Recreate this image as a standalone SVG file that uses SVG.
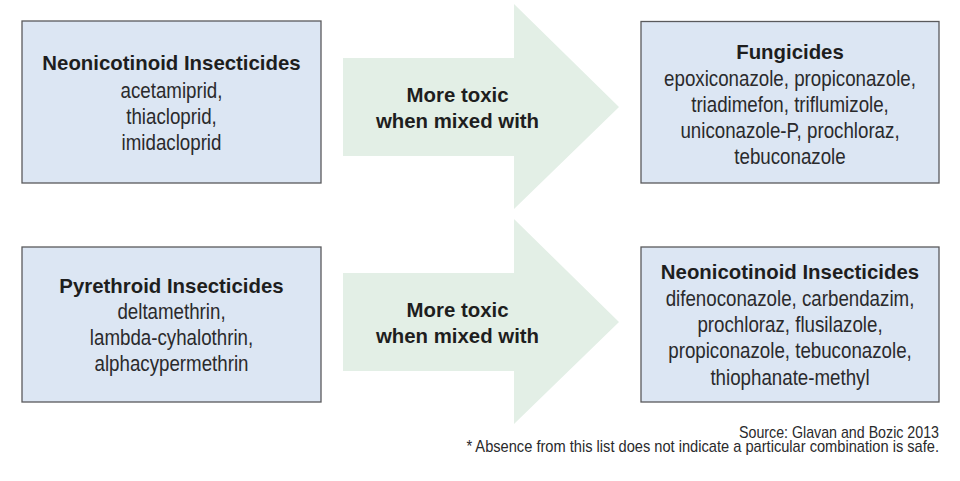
<svg xmlns="http://www.w3.org/2000/svg" width="960" height="481" viewBox="0 0 960 481">
<style>
.box{fill:#dce6f3;stroke:#5a5a5c;stroke-width:1.3}
.arrow{fill:#e3efe6}
.t{font-family:"Liberation Sans",Arial,sans-serif;font-weight:bold;font-size:20.4px;fill:#1e1e1e;text-anchor:middle}
.b{font-family:"Liberation Sans",Arial,sans-serif;font-size:22.7px;fill:#2a2a2c;text-anchor:middle}
.f{font-family:"Liberation Sans",Arial,sans-serif;font-size:16px;fill:#2a2a2c;text-anchor:end}
</style>
<rect width="960" height="481" fill="#ffffff"/>
<g id="connectors">
<polygon class="arrow" points="343,58 514,58 514,4 619,107 514,209 514,156 343,156"/>
<text class="t" x="457.5" y="101.7">More toxic</text>
<text class="t" x="457.5" y="127.7">when mixed with</text>
<polygon class="arrow" points="343,273 514,273 514,219 619,322 514,424 514,371 343,371"/>
<text class="t" x="457.5" y="316.7">More toxic</text>
<text class="t" x="457.5" y="342.7">when mixed with</text>
</g>
<g id="neonicotinoid-1">
<rect class="box" x="22" y="21" width="299" height="162"/>
<text class="t" x="171.5" y="70">Neonicotinoid Insecticides</text>
<text class="b" transform="matrix(0.825 0 0 1 171.5 98)">acetamiprid,</text>
<text class="b" transform="matrix(0.825 0 0 1 171.5 124)">thiacloprid,</text>
<text class="b" transform="matrix(0.825 0 0 1 171.5 150)">imidacloprid</text>
</g>
<g id="fungicides">
<rect class="box" x="641" y="21.5" width="298" height="161.5"/>
<text class="t" x="790" y="59">Fungicides</text>
<text class="b" transform="matrix(0.825 0 0 1 790 85.5)">epoxiconazole, propiconazole,</text>
<text class="b" transform="matrix(0.825 0 0 1 790 111.5)">triadimefon, triflumizole,</text>
<text class="b" transform="matrix(0.825 0 0 1 790 137.5)">uniconazole-P, prochloraz,</text>
<text class="b" transform="matrix(0.825 0 0 1 790 163.5)">tebuconazole</text>
</g>
<g id="pyrethroid">
<rect class="box" x="22" y="247" width="299" height="155"/>
<text class="t" x="171.5" y="292.5">Pyrethroid Insecticides</text>
<text class="b" transform="matrix(0.825 0 0 1 171.5 319)">deltamethrin,</text>
<text class="b" transform="matrix(0.825 0 0 1 171.5 345)">lambda-cyhalothrin,</text>
<text class="b" transform="matrix(0.825 0 0 1 171.5 371)">alphacypermethrin</text>
</g>
<g id="neonicotinoid-2">
<rect class="box" x="641" y="247" width="298" height="155"/>
<text class="t" x="790" y="279.3">Neonicotinoid Insecticides</text>
<text class="b" transform="matrix(0.825 0 0 1 790 305.6)">difenoconazole, carbendazim,</text>
<text class="b" transform="matrix(0.825 0 0 1 790 331.9)">prochloraz, flusilazole,</text>
<text class="b" transform="matrix(0.825 0 0 1 790 358.2)">propiconazole, tebuconazole,</text>
<text class="b" transform="matrix(0.825 0 0 1 790 384.5)">thiophanate-methyl</text>
</g>
<g id="notes">
<text class="f" transform="matrix(0.89 0 0 1 939 438)">Source: Glavan and Bozic 2013</text>
<text class="f" transform="matrix(0.915 0 0 1 939 452.3)">* Absence from this list does not indicate a particular combination is safe.</text>
</g>
</svg>
